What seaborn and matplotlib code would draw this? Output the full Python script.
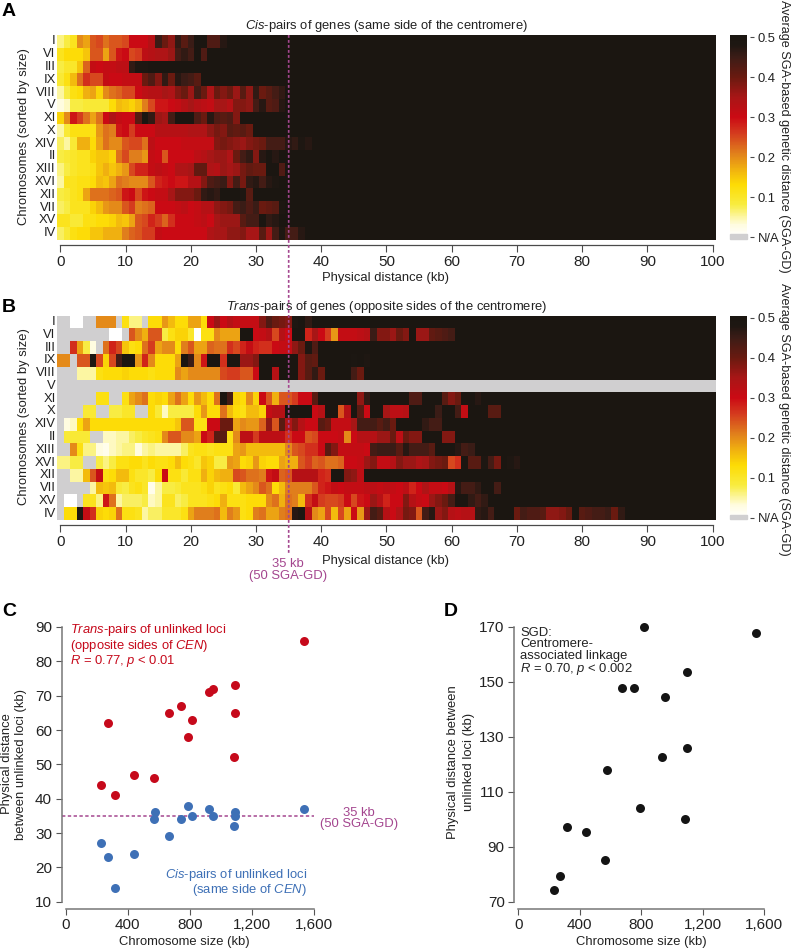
import numpy as np
import pandas as pd
import matplotlib
matplotlib.use("Agg")
import matplotlib.pyplot as plt
from matplotlib.colors import LinearSegmentedColormap
from matplotlib.patches import ConnectionPatch, Rectangle
import seaborn as sns

W, H = 797, 951
chromosomes = ["I", "VI", "III", "IX", "VIII", "V", "XI", "X", "XIV", "II", "XIII", "XVI", "XII", "VII", "XV", "IV"]
distance_ticks = list(range(0, 101, 10))
colorbar_ticks = [0.0, 0.1, 0.2, 0.3, 0.4, 0.5]
colorbar_labels = ["N/A", "0.1", "0.2", "0.3", "0.4", "0.5"]
threshold_kb = 35

# Average SGA-GD x100 per 1-kb bin; bins after the end of a list are saturated at 50.
N = None
cis_I = [6,8,11,20,18,24,25,22,24,24,25,30,30,30,33,45,40,37,46,42,45,50,50,43,43,47]
cis_VI = [11,13,13,13,15,24,24,18,24,29,30,25,26,32,33,34,34,36,44,46,44,50,43]
cis_III = [8,10,10,15,23,31,30,31,31,32,32,46,48,48]
cis_IX = [9,12,16,22,27,25,25,31,30,30,31,31,31,40,43,38,46,40,47,45,44,42]
cis_VIII = [5,8,12,13,17,18,14,20,22,23,25,25,30,32,33,33,35,34,38,40,36,44,40,34,40,38,40,36,42,37,46,40,42,44,46]
cis_V = [3,4,8,8,9,9,9,9,13,16,15,14,16,21,25,29,29,30,31,33,35,33,32,31,35,35,33,38,38,37,44,47,42,43,47]
cis_XI = [14,20,29,26,22,18,22,30,34,31,30,30,42,50,46,36,35,44,50,50,50,43,40,47,43,42,43,38]
cis_X = [5,9,12,12,12,12,19,22,21,29,30,26,30,30,30,33,33,33,33,33,34,34,34,37,39,38,42,41,42,40]
cis_XIV = [7,5,9,17,17,13,18,22,20,20,24,25,25,22,32,30,30,30,30,31,31,31,31,31,38,39,38,37,36,38,39,40,44,44,44,47,46,48,47]
cis_II = [8,9,10,11,11,14,15,15,14,22,25,21,21,19,31,30,24,30,30,30,30,32,33,35,36,36,34,40,44,46,38,47,50,47]
cis_XIII = [6,8,10,11,11,12,15,17,15,17,19,25,28,28,31,32,31,30,34,34,35,41,41,34,33,36,35,36,39,41,40,40,50,50,43]
cis_XVI = [5,11,11,12,12,13,16,15,18,22,21,20,20,20,24,28,29,30,29,29,33,33,38,43,44,45,38,44,39,46,47,44,47,48]
cis_XII = [8,9,11,12,18,22,22,22,23,24,29,30,25,29,30,31,31,35,38,38,38,40,46,47,46,50,50,50,48,42,50,50,50,50]
cis_VII = [7,8,11,11,11,14,16,19,20,20,24,26,21,22,23,30,30,30,31,32,30,31,33,33,37,38,39,44,45,43,45,40,41,42,48]
cis_XV = [11,11,9,9,12,12,13,13,14,16,15,18,24,25,28,26,23,27,30,30,30,31,32,30,35,36,36,36,42,44,44,50,46,47]
cis_IV = [7,9,12,13,13,15,15,17,17,17,21,23,24,26,26,31,30,30,30,30,30,30,30,34,35,35,37,37,38,35,35,42,36,44,48,44,44,47]

trans_I = [N,N,0,0,N,N,20,20,20,N,12,6,6,N,13,13,19,16,13,13,18,18,13,30,36,30,33,31,31,31,31,38,43,40,39,38,48,50,46]
trans_VI = [N,N,N,N,N,N,N,N,0,0,N,24,20,17,24,24,8,12,14,14,10,0,12,12,20,18,18,18,50,50,30,31,33,25,33,30,50,50,28,35,30,26,19,31,31,31,32,33,45,38,38,36,40,38,50,36,36,41,42,43,44]
trans_III = [N,N,27,18,8,3,N,22,28,25,15,12,13,22,26,18,20,20,13,21,24,18,18,23,22,22,27,25,28,31,28,27,27,30,31,31,37,40,48,43]
trans_IX = [20,20,N,24,24,48,25,14,25,44,50,50,19,28,20,13,13,13,18,50,45,20,29,50,50,27,50,50,36,36,38,50,50,50,50,50,50,38,42,41,50,50,50,50,50,49,50,48]
trans_VIII = [N,N,N,5,5,5,12,13,13,13,14,13,13,13,12,13,13,13,20,18,20,20,20,20,20,25,26,26,24,24,30,50,50,33,50,50,50,38,42,46,40,50,50,50,50,44,40]
trans_V = [N] * 101
trans_XI = [N,N,N,N,N,N,12,12,N,N,12,18,20,22,13,14,13,18,22,18,13,19,16,13,22,50,44,14,13,20,14,30,24,17,24,24,26,30,30,42,50,50,50,50,50,50,37,46,50,50,50,50,50,50,43,43,50,50,50,42,38,40,50,50,47]
trans_X = [N,N,N,N,9,9,N,N,8,8,10,10,N,N,13,9,4,8,8,8,8,13,19,13,13,22,16,13,12,16,16,14,31,33,33,50,50,50,50,30,33,50,50,24,33,50,42,30,50,50,35,32,32,33,50,50,50,50,45,50,50,44,31,50,50,50,42,42]
trans_XIV = [N,3,4,13,18,13,13,13,13,13,13,13,13,13,13,13,13,13,15,24,24,12,12,30,30,40,40,18,20,19,19,23,37,24,42,34,38,33,30,30,42,40,31,31,31,35,44,44,44,42,44,40,50,50,50,50,46,44,44]
trans_II = [N,9,9,9,9,N,N,4,4,5,5,7,8,10,11,12,20,24,24,20,20,18,30,28,42,42,12,20,32,32,26,32,32,32,32,27,30,30,24,25,30,30,30,31,20,30,33,33,33,36,36,40,32,40,38,38,50,50,50,38,38]
trans_XIII = [N,N,20,12,6,6,3,2,4,5,6,6,3,5,6,5,5,5,5,7,11,12,12,11,12,12,12,18,19,16,16,16,16,16,16,20,24,25,27,27,30,42,38,31,31,31,31,30,44,45,45,45,42,47,44,44,44,42,50,50,50,47,44,45]
trans_XVI = [6,6,8,8,N,N,8,6,8,12,12,13,13,11,13,12,12,13,16,13,12,10,15,14,8,8,19,18,13,14,19,14,13,13,18,17,17,24,26,23,24,22,22,23,30,30,31,36,38,31,31,33,38,36,36,34,35,38,39,40,25,27,50,42,42,48,44,39,50,48,47]
trans_XII = [N,N,5,5,16,24,31,12,13,16,16,12,10,10,8,13,30,12,12,9,12,12,17,14,16,17,17,25,24,22,22,21,29,31,23,24,33,33,33,33,28,27,50,50,38,37,32]
trans_VII = [N,N,N,N,N,5,16,15,16,9,8,11,12,10,2,5,8,8,9,11,11,11,12,14,11,12,13,9,16,18,20,24,22,13,16,21,21,21,21,24,28,29,31,30,31,31,31,32,32,31,32,31,30,32,28,30,34,31,31,30,33,47,44,44,46,50,50,44]
trans_XV = [N,0,0,N,11,11,6,29,22,5,7,7,7,8,4,5,11,11,7,8,11,11,11,12,13,17,12,12,12,13,13,13,20,22,17,22,21,16,27,31,26,25,25,26,30,25,29,30,36,33,28,30,30,38,33,31,30,36,38,40,44,50,50,46,44,46]
trans_IV = [N,13,13,48,31,27,14,13,14,22,12,12,11,5,7,7,10,10,10,12,18,21,21,21,22,16,21,19,12,13,21,22,18,18,21,22,47,48,33,20,18,25,16,25,18,30,19,36,44,42,33,30,34,39,38,24,44,47,36,38,33,32,33,33,46,47,44,50,50,50,40,44,43,43,42,37,37,38,40,50,42,43,44,44,45,40,46]

cis_rows = [cis_I, cis_VI, cis_III, cis_IX, cis_VIII, cis_V, cis_XI, cis_X, cis_XIV, cis_II, cis_XIII, cis_XVI, cis_XII, cis_VII, cis_XV, cis_IV]
trans_rows = [trans_I, trans_VI, trans_III, trans_IX, trans_VIII, trans_V, trans_XI, trans_X, trans_XIV, trans_II, trans_XIII, trans_XVI, trans_XII, trans_VII, trans_XV, trans_IV]

# Scatter data (same chromosome order; V has no trans value)
size_kb = [230, 270, 316, 440, 566, 576, 667, 745, 785, 813, 924, 950, 1080, 1091, 1091, 1533]
cis_kb = [27, 23, 14, 24, 34, 36, 29, 34, 38, 35, 37, 35, 32, 36, 35, 37]
trans_kb = [44, 62, 41, 47, 46, None, 65, 67, 58, 63, 71, 72, 52, 65, 73, 86]
sgd_size = [230, 269, 314, 440, 566, 579, 672, 752, 789, 820, 932, 956, 1086, 1099, 1099, 1548]
sgd_kb = [74.4, 79.5, 97.1, 95.2, 85.3, 117.8, 147.8, 147.8, 104, 170, 122.7, 144.4, 100, 126.1, 153.5, 167.7]

sns.set_theme(style="white")
plt.rcParams["font.family"] = ["Liberation Sans", "DejaVu Sans"]
plt.rcParams.update({
    "mathtext.fontset": "custom",
    "mathtext.rm": "Liberation Sans",
    "mathtext.it": "Liberation Sans:italic",
    "mathtext.bf": "Liberation Sans:bold",
    "text.color": "#222222",
    "axes.labelcolor": "#222222",
    "xtick.color": "#222222",
    "ytick.color": "#222222",
})
FS = 9.4
DOT = 42
PURPLE = "#A4468F"
RED = "#C6091B"
BLUE = "#3E70B6"
SPINE = "#4a4a4a"
NA_GREY = "#D0CFD0"

vmax = 0.505
nodes = [(0, "#FFFFFF"), (.03, "#FFFCE0"), (.08, "#F8EC40"), (.13, "#FDDC05"), (.17, "#F0B010"),
         (.21, "#E07E1C"), (.26, "#D43A1E"), (.30, "#CB0A14"), (.35, "#A81616"), (.40, "#6A1A10"),
         (.45, "#3C1C16"), (.48, "#1E1712"), (vmax, "#1A1611")]
cmap = LinearSegmentedColormap.from_list("sga", [(v / vmax, c) for v, c in nodes])
cmap.set_bad(NA_GREY)

fig = plt.figure(figsize=(W / 100, H / 100), dpi=100)


def px_axes(x0, y0, x1, y1):
    return fig.add_axes([x0 / W, 1 - y1 / H, (x1 - x0) / W, (y1 - y0) / H])


def ftext(x, y, s, **kw):
    kw.setdefault("fontsize", FS)
    kw.setdefault("ha", "center")
    kw.setdefault("va", "center")
    return fig.text(x / W, 1 - y / H, s, **kw)


def frame(rows):
    out = []
    for r in rows:
        vals = [np.nan if v is None else v / 100 for v in r]
        out.append(vals + [0.5] * (101 - len(vals)))
    return pd.DataFrame(out, index=chromosomes, columns=range(101))


def heat(rows, top, bottom, title, cb_text_y):
    ax = px_axes(57.2, top, 715.8, bottom)
    cax = px_axes(730, top, 747, top + 202)
    sns.heatmap(frame(rows), ax=ax, cmap=cmap, vmin=0, vmax=vmax, cbar_ax=cax, linewidths=0)
    ax.set_facecolor(NA_GREY)
    ax.set_xticks([k + .5 for k in distance_ticks])
    ax.set_xticklabels(distance_ticks, rotation=0, fontsize=FS)
    ax.set_yticks(np.arange(16) + .5)
    ax.set_yticklabels(chromosomes, rotation=0, fontsize=FS)
    ax.tick_params(axis="y", length=0, pad=1.2)
    ax.tick_params(axis="x", length=5, width=.8, color=SPINE, pad=2.5, bottom=True)
    sp = ax.spines["bottom"]
    sp.set_visible(True)
    sp.set_color(SPINE)
    sp.set_linewidth(.9)
    sp.set_position(("outward", 3.6))
    sp.set_bounds(.5, 100.5)
    ax.set_xlabel("")
    ax.set_ylabel("")
    ftext(387, top - 9, title)
    ftext(24, (top + bottom) / 2 - 1, "Chromosomes (sorted by size)", rotation=90)
    ftext(385, bottom + (38 if top < 100 else 41), "Physical distance (kb)")
    # colour bar
    cb = ax.collections[0].colorbar
    cb.outline.set_visible(False)
    cb.set_ticks(colorbar_ticks)
    cb.set_ticklabels(colorbar_labels)
    cax.tick_params(axis="y", length=2.8, width=.8, color=SPINE, pad=2.8, labelsize=FS, right=True)
    cax.spines["right"].set_position(("outward", 2))
    cax.add_patch(Rectangle((0, -0.004), 1, 0.011, transform=cax.get_yaxis_transform(),
                            color=NA_GREY, zorder=5, clip_on=False))
    ftext(784, cb_text_y, "Average SGA-based genetic distance (SGA-GD)", rotation=270, fontsize=9.1)
    return ax


ax_a = heat(cis_rows, 35, 239.5, r"$\mathit{Cis}$-pairs of genes (same side of the centromere)", 136)
ax_b = heat(trans_rows, 315.7, 520, r"$\mathit{Trans}$-pairs of genes (opposite sides of the centromere)", 419)

fig.add_artist(ConnectionPatch(
    xyA=(threshold_kb + .5, 1), coordsA=ax_a.get_xaxis_transform(),
    xyB=(threshold_kb + .5, -33 / 204.3), coordsB=ax_b.get_xaxis_transform(),
    color=PURPLE, lw=1.2, ls=(0, (1.7, 1.3)), capstyle="butt", zorder=10))
ftext(288, 564, "35 kb", color=PURPLE)
ftext(288, 576, "(50 SGA-GD)", color=PURPLE)


def scatter_axes(x0, x1, ylim, yticks):
    ax = px_axes(x0, 627, x1, 901.7)
    ax.set_xlim(0, 1600)
    ax.set_ylim(*ylim)
    ax.set_xticks([0, 400, 800, 1200, 1600])
    ax.set_xticklabels(["0", "400", "800", "1,200", "1,600"], fontsize=FS)
    ax.set_yticks(yticks)
    ax.set_yticklabels(yticks, fontsize=FS)
    ax.patch.set_alpha(0)
    for s in ["top", "right"]:
        ax.spines[s].set_visible(False)
    for s in ["left", "bottom"]:
        ax.spines[s].set_color("#777777")
        ax.spines[s].set_linewidth(1.1)
    ax.spines["left"].set_position(("outward", 3))
    ax.spines["bottom"].set_position(("outward", 5.2))
    ax.tick_params(length=4.3, width=.8, color="#555555", pad=2.5, left=True, bottom=True)
    return ax


# Panel C
ax_c = scatter_axes(65.7, 314.3, (10, 90), list(range(10, 91, 10)))
df_c = pd.DataFrame({"size": size_kb, "cis": cis_kb, "trans": trans_kb}, dtype=float)
ax_c.plot([-22, 1600], [threshold_kb, threshold_kb], color=PURPLE, lw=1.1, ls=(0, (2.2, 1.6)), clip_on=False, zorder=1)
sns.scatterplot(data=df_c, x="size", y="trans", color=RED, s=DOT, linewidth=0, ax=ax_c, clip_on=False, zorder=3)
sns.scatterplot(data=df_c, x="size", y="cis", color=BLUE, s=DOT, linewidth=0, ax=ax_c, clip_on=False, zorder=3)
ax_c.set_xlabel("")
ax_c.set_ylabel("")
ftext(70, 645.7, "$\\mathit{Trans}$-pairs of unlinked loci\n(opposite sides of $\\mathit{CEN}$)\n$\\mathit{R}$ = 0.77, $\\mathit{p}$ < 0.01",
      color=RED, ha="left", linespacing=0.95)
ftext(307, 882.5, "$\\mathit{Cis}$-pairs of unlinked loci\n(same side of $\\mathit{CEN}$)",
      color=BLUE, ha="right", multialignment="right", linespacing=0.95)
ftext(359, 812.5, "35 kb", color=PURPLE)
ftext(359, 824.5, "(50 SGA-GD)", color=PURPLE)
ftext(7, 764, "Physical distance", rotation=90)
ftext(21.5, 764, "between unlinked loci (kb)", rotation=90)
ftext(184, 942.5, "Chromosome size (kb)")

# Panel D
ax_d = scatter_axes(518.3, 764.3, (70, 170), list(range(70, 171, 20)))
df_d = pd.DataFrame({"size": sgd_size, "sgd": sgd_kb})
sns.scatterplot(data=df_d, x="size", y="sgd", color="#141414", s=DOT, linewidth=0, ax=ax_d, clip_on=False, zorder=3)
ax_d.set_xlabel("")
ax_d.set_ylabel("")
ftext(520, 652, "SGD:\nCentromere-\nassociated linkage\n$\\mathit{R}$ = 0.70, $\\mathit{p}$ < 0.002",
      ha="left", linespacing=0.95)
ftext(453, 762, "Physical distance between", rotation=90)
ftext(468.5, 762, "unlinked loci (kb)", rotation=90)
ftext(641, 942.5, "Chromosome size (kb)")

for x, y, s in [(2, 11, "A"), (2, 307, "B"), (2, 611, "C"), (444, 611, "D")]:
    ftext(x, y, s, ha="left", fontsize=14, fontweight="bold", color="black")

fig.savefig("out.png", dpi=100)
